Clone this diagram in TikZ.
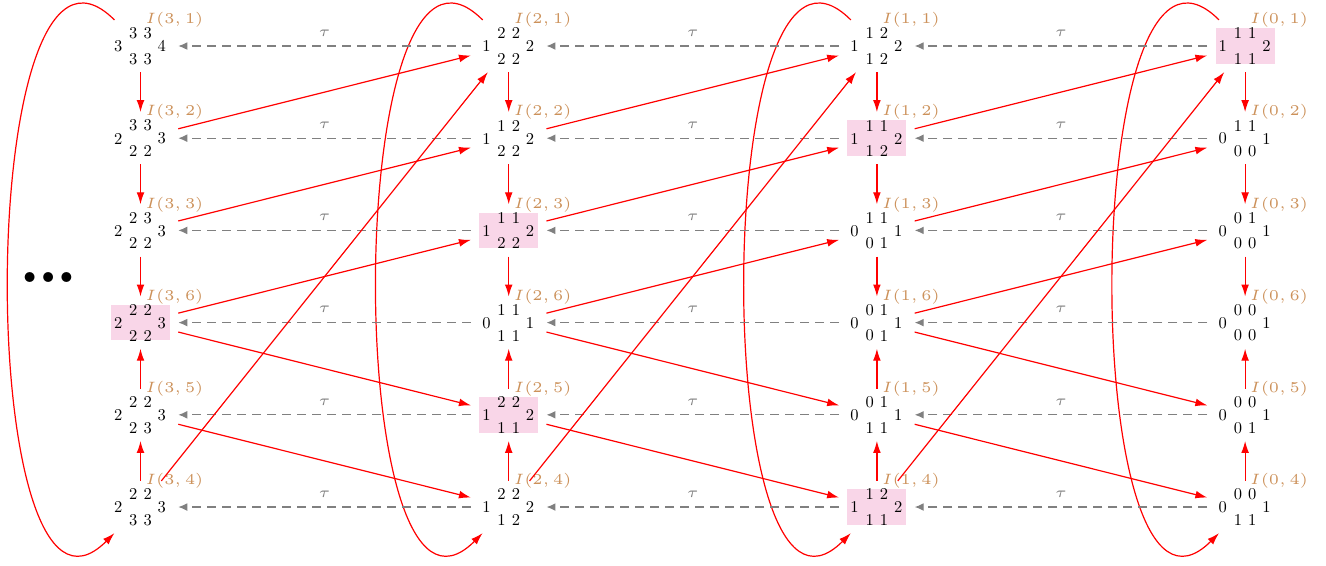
\documentclass[tikz,border=0pt]{standalone}
\usepackage{graphicx}
\usetikzlibrary{arrows.meta}
\definecolor{hlpink}{RGB}{249,214,232}
\definecolor{labcol}{RGB}{204,145,90}
\tikzset{
  dvbox/.style={rectangle, minimum width=19.67pt, minimum height=11.9pt, inner sep=0pt, outer sep=2.75pt},
  hl/.style={fill=hlpink},
  dig/.style={inner sep=0pt, font=\fontsize{10}{12}\selectfont},
  lbl/.style={inner sep=0pt, anchor=west, text=labcol, font=\tiny},
  redarr/.style={red, line width=0.4pt, -{Latex[length=4pt,width=2.6pt]}},
  tauarr/.style={gray, densely dashed, -{Latex[length=3pt,width=2.6pt]}},
  taulbl/.style={gray, inner sep=0pt, font=\tiny, yshift=4.3pt},
  dotsstyle/.style={inner sep=0pt, font=\fontsize{7.6}{9}\selectfont},
}
\newcommand{\dg}[1]{\scalebox{0.55}{#1}}
\newcommand{\placepair}[4]{%
  \node[dig] at ([shift={(-7.2,#2)}]#1.center) {\dg{#3}};
  \node[dig] at ([shift={(7.2,#2)}]#1.center) {\dg{#4}};}
\newcommand{\DV}[9][]{%
  \node[dvbox,#1] (n#2#3) at (#4,#5) {};
  \node[dig] at ([shift={(-22.3,0.4)}]n#2#3.center) {\dg{#6}};
  \placepair{n#2#3}{-12.7}#7
  \placepair{n#2#3}{12.9}#8
  \node[dig] at ([shift={(21.3,0.4)}]n#2#3.center) {\dg{#9}};
  \node[lbl] at ([shift={(4.5,-26)}]n#2#3.center) {$I(#2,#3)$};}
\begin{document}
\begin{tikzpicture}[x=0.33333pt,y=-0.33333pt]
\useasboundingbox (0,0) rectangle (1326,565);
% column k=3
\DV{3}{1}{140.5}{46}{3}{33}{33}{4}
\DV{3}{2}{140.5}{138.2}{2}{33}{22}{3}
\DV{3}{3}{140.5}{230.4}{2}{23}{22}{3}
\DV[hl]{3}{6}{140.5}{322.6}{2}{22}{22}{3}
\DV{3}{5}{140.5}{414.8}{2}{22}{23}{3}
\DV{3}{4}{140.5}{507}{2}{22}{33}{3}
% column k=2
\DV{2}{1}{508.7}{46}{1}{22}{22}{2}
\DV{2}{2}{508.7}{138.2}{1}{12}{22}{2}
\DV[hl]{2}{3}{508.7}{230.4}{1}{11}{22}{2}
\DV{2}{6}{508.7}{322.6}{0}{11}{11}{1}
\DV[hl]{2}{5}{508.7}{414.8}{1}{22}{11}{2}
\DV{2}{4}{508.7}{507}{1}{22}{12}{2}
% column k=1
\DV{1}{1}{876.9}{46}{1}{12}{12}{2}
\DV[hl]{1}{2}{876.9}{138.2}{1}{11}{12}{2}
\DV{1}{3}{876.9}{230.4}{0}{11}{01}{1}
\DV{1}{6}{876.9}{322.6}{0}{01}{01}{1}
\DV{1}{5}{876.9}{414.8}{0}{01}{11}{1}
\DV[hl]{1}{4}{876.9}{507}{1}{12}{11}{2}
% column k=0
\DV[hl]{0}{1}{1245.1}{46}{1}{11}{11}{2}
\DV{0}{2}{1245.1}{138.2}{0}{11}{00}{1}
\DV{0}{3}{1245.1}{230.4}{0}{01}{00}{1}
\DV{0}{6}{1245.1}{322.6}{0}{00}{00}{1}
\DV{0}{5}{1245.1}{414.8}{0}{00}{01}{1}
\DV{0}{4}{1245.1}{507}{0}{00}{11}{1}
% dots
\node[dotsstyle] (dots) at (48.2,278) {$\bullet\bullet\bullet$};
% vertical arrows and loops
\foreach \k in {3,2,1,0} {
  \draw[redarr] (n\k1) -- (n\k2);
  \draw[redarr] (n\k2) -- (n\k3);
  \draw[redarr] (n\k3) -- (n\k6);
  \draw[redarr] (n\k4) -- (n\k5);
  \draw[redarr] (n\k5) -- (n\k6);
  \draw[redarr] (n\k1) to[out=135,in=225] (n\k4);
}
% tau arrows
\foreach \k/\j in {3/2,2/1,1/0} {
  \foreach \i in {1,2,3,4,5,6} {
    \draw[tauarr] (n\j\i) -- node[taulbl]{$\tau$} (n\k\i);
  }
}
% diagonal arrows
\foreach \k/\j in {3/2,2/1,1/0} {
  \draw[redarr] (n\k2) -- (n\j1);
  \draw[redarr] (n\k3) -- (n\j2);
  \draw[redarr] (n\k6) -- (n\j3);
  \draw[redarr] (n\k6) -- (n\j5);
  \draw[redarr] (n\k5) -- (n\j4);
  \draw[redarr] (n\k4) -- (n\j1);
}
\end{tikzpicture}
\end{document}
